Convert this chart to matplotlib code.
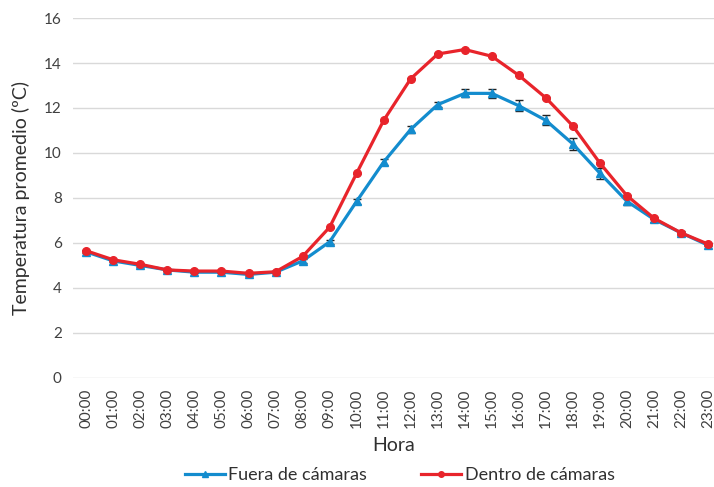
import numpy as np
import matplotlib.pyplot as plt
from matplotlib.lines import Line2D

plt.rcParams['font.family'] = ['Lato', 'DejaVu Sans']

horas = ['%02d:00' % h for h in range(24)]
fuera = [5.6, 5.2, 5.0, 4.8, 4.7, 4.7, 4.6, 4.7, 5.2, 6.05, 7.85, 9.6,
         11.05, 12.15, 12.65, 12.65, 12.1, 11.45, 10.4, 9.1, 7.85, 7.05, 6.45, 5.9]
fuera_err = [0.05, 0.05, 0.05, 0.05, 0.05, 0.05, 0.05, 0.05, 0.08, 0.1, 0.12, 0.12,
             0.15, 0.12, 0.18, 0.2, 0.25, 0.22, 0.25, 0.25, 0.15, 0.1, 0.1, 0.05]
dentro = [5.65, 5.25, 5.05, 4.8, 4.75, 4.75, 4.65, 4.72, 5.4, 6.7, 9.1, 11.45,
          13.3, 14.4, 14.6, 14.3, 13.45, 12.45, 11.2, 9.55, 8.1, 7.1, 6.45, 5.95]
dentro_err = [0.03] * 24

azul = '#138cce'
rojo = '#e8242b'

fig = plt.figure(figsize=(7.14, 4.87), dpi=100)
ax = fig.add_axes([0.102, 0.224, 0.898, 0.739])
x = np.arange(len(horas))

ax.errorbar(x, fuera, yerr=fuera_err, color=azul, lw=2.3, marker='^', ms=5.5,
            ecolor='#222222', elinewidth=1, capsize=3, zorder=3)
ax.errorbar(x, dentro, yerr=dentro_err, color=rojo, lw=2.3, marker='o', ms=5.5,
            ecolor='#222222', elinewidth=1, capsize=3, zorder=4)

ax.set_ylim(0, 16)
ax.set_yticks(range(0, 17, 2))
ax.set_xlim(-0.5, 23.22)
ax.set_xticks(x)
ax.set_xticklabels(horas, rotation=90, fontsize=11, color='#404040')
ax.tick_params(axis='y', labelsize=11, labelcolor='#404040')
ax.tick_params(length=0, pad=8)
ax.grid(axis='y', color='#d9d9d9', lw=1)
ax.set_axisbelow(True)
for s in ax.spines.values():
    s.set_visible(False)

ax.set_xlabel('Hora', fontsize=14, color='#303030', labelpad=6)
ax.set_ylabel('Temperatura promedio (ºC)', fontsize=14, color='#303030', labelpad=10)

handles = [Line2D([], [], color=azul, lw=2.3, marker='^', ms=4),
           Line2D([], [], color=rojo, lw=2.3, marker='o', ms=4)]
leg = fig.legend(handles, ['Fuera de cámaras', 'Dentro de cámaras'], loc='center',
                 bbox_to_anchor=(0.56, 0.025), ncol=2, frameon=False,
                 fontsize=13, handlelength=2.2, columnspacing=3, handletextpad=0.2)
for t in leg.get_texts():
    t.set_color('#303030')

fig.savefig('out.png', dpi=100)
